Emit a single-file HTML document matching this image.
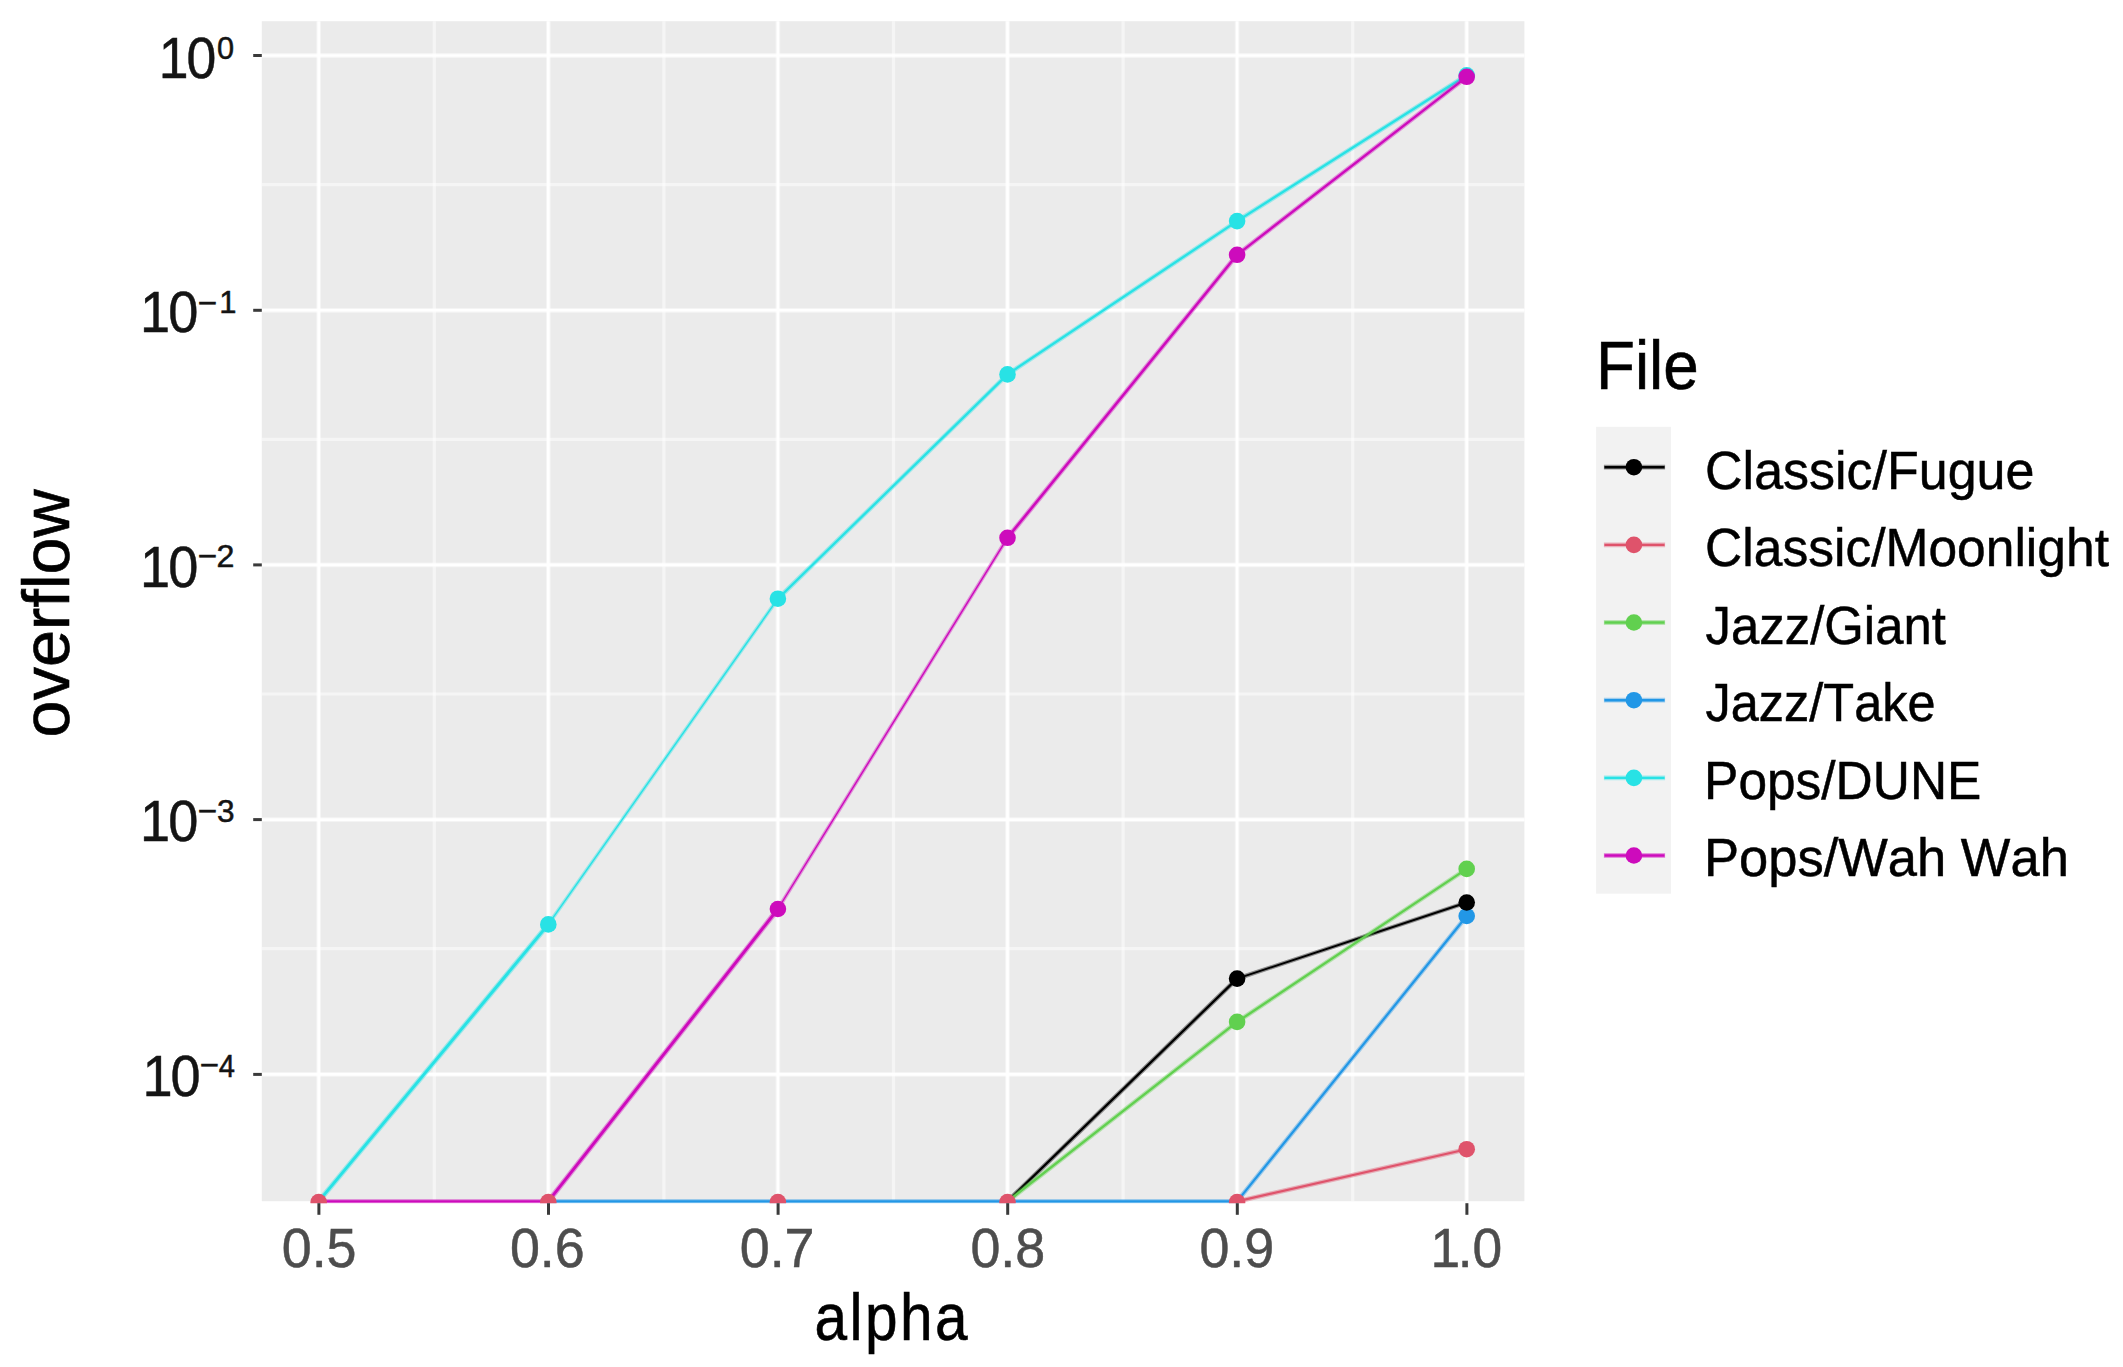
<!DOCTYPE html>
<html lang="en"><head><meta charset="utf-8"><title>overflow vs alpha</title>
<style>
html,body{margin:0;padding:0;background:#fff;}
body{width:2123px;height:1367px;overflow:hidden;}
svg{display:block;}
text{font-family:"Liberation Sans",Arial,sans-serif;font-kerning:none;white-space:pre;}
</style></head><body>
<svg width="2123" height="1367" viewBox="0 0 2123 1367">
<rect x="0" y="0" width="2123" height="1367" fill="#ffffff"/>
<defs><clipPath id="pc"><rect x="261.8" y="21.2" width="1262.6" height="1182.0"/></clipPath></defs>
<rect x="261.8" y="21.2" width="1262.6" height="1180.0" fill="#EBEBEB"/>
<g stroke="#ffffff" fill="none">
<line x1="261.8" x2="1524.4" y1="184.7" y2="184.7" stroke-width="3.2" stroke-opacity="0.5"/>
<line x1="261.8" x2="1524.4" y1="439.3" y2="439.3" stroke-width="3.2" stroke-opacity="0.5"/>
<line x1="261.8" x2="1524.4" y1="694.0" y2="694.0" stroke-width="3.2" stroke-opacity="0.5"/>
<line x1="261.8" x2="1524.4" y1="948.7" y2="948.7" stroke-width="3.2" stroke-opacity="0.5"/>
<line y1="21.2" y2="1201.2" x1="434.3" x2="434.3" stroke-width="3.2" stroke-opacity="0.5"/>
<line y1="21.2" y2="1201.2" x1="663.9" x2="663.9" stroke-width="3.2" stroke-opacity="0.5"/>
<line y1="21.2" y2="1201.2" x1="893.5" x2="893.5" stroke-width="3.2" stroke-opacity="0.5"/>
<line y1="21.2" y2="1201.2" x1="1123.1" x2="1123.1" stroke-width="3.2" stroke-opacity="0.5"/>
<line y1="21.2" y2="1201.2" x1="1352.7" x2="1352.7" stroke-width="3.2" stroke-opacity="0.5"/>
<line x1="261.8" x2="1524.4" y1="55.5" y2="55.5" stroke-width="4.8" stroke-opacity="0.45"/>
<line x1="261.8" x2="1524.4" y1="55.5" y2="55.5" stroke-width="2.6"/>
<line x1="261.8" x2="1524.4" y1="310.3" y2="310.3" stroke-width="4.8" stroke-opacity="0.45"/>
<line x1="261.8" x2="1524.4" y1="310.3" y2="310.3" stroke-width="2.6"/>
<line x1="261.8" x2="1524.4" y1="564.9" y2="564.9" stroke-width="4.8" stroke-opacity="0.45"/>
<line x1="261.8" x2="1524.4" y1="564.9" y2="564.9" stroke-width="2.6"/>
<line x1="261.8" x2="1524.4" y1="819.6" y2="819.6" stroke-width="4.8" stroke-opacity="0.45"/>
<line x1="261.8" x2="1524.4" y1="819.6" y2="819.6" stroke-width="2.6"/>
<line x1="261.8" x2="1524.4" y1="1074.4" y2="1074.4" stroke-width="4.8" stroke-opacity="0.45"/>
<line x1="261.8" x2="1524.4" y1="1074.4" y2="1074.4" stroke-width="2.6"/>
<line y1="21.2" y2="1201.2" x1="318.7" x2="318.7" stroke-width="4.8" stroke-opacity="0.45"/>
<line y1="21.2" y2="1201.2" x1="318.7" x2="318.7" stroke-width="2.6"/>
<line y1="21.2" y2="1201.2" x1="548.3" x2="548.3" stroke-width="4.8" stroke-opacity="0.45"/>
<line y1="21.2" y2="1201.2" x1="548.3" x2="548.3" stroke-width="2.6"/>
<line y1="21.2" y2="1201.2" x1="777.9" x2="777.9" stroke-width="4.8" stroke-opacity="0.45"/>
<line y1="21.2" y2="1201.2" x1="777.9" x2="777.9" stroke-width="2.6"/>
<line y1="21.2" y2="1201.2" x1="1007.5" x2="1007.5" stroke-width="4.8" stroke-opacity="0.45"/>
<line y1="21.2" y2="1201.2" x1="1007.5" x2="1007.5" stroke-width="2.6"/>
<line y1="21.2" y2="1201.2" x1="1237.1" x2="1237.1" stroke-width="4.8" stroke-opacity="0.45"/>
<line y1="21.2" y2="1201.2" x1="1237.1" x2="1237.1" stroke-width="2.6"/>
<line y1="21.2" y2="1201.2" x1="1466.7" x2="1466.7" stroke-width="4.8" stroke-opacity="0.45"/>
<line y1="21.2" y2="1201.2" x1="1466.7" x2="1466.7" stroke-width="2.6"/>
</g>
<g clip-path="url(#pc)" fill="none" stroke-linecap="round" stroke-linejoin="round">
<line x1="1007.5" y1="1201.4" x2="1237.1" y2="978.6" stroke="#000000" stroke-width="4.7" stroke-opacity="0.4"/>
<line x1="1007.5" y1="1201.4" x2="1237.1" y2="978.6" stroke="#000000" stroke-width="2.3"/>
<line x1="1237.1" y1="978.6" x2="1466.7" y2="902.5" stroke="#000000" stroke-width="4.3" stroke-opacity="0.4"/>
<line x1="1237.1" y1="978.6" x2="1466.7" y2="902.5" stroke="#000000" stroke-width="1.9"/>
<line x1="1237.1" y1="1201.4" x2="1466.7" y2="1149.2" stroke="#DF536B" stroke-width="4.6" stroke-opacity="0.4"/>
<line x1="1237.1" y1="1201.4" x2="1466.7" y2="1149.2" stroke="#DF536B" stroke-width="2.2"/>
<line x1="1007.5" y1="1201.4" x2="1237.1" y2="1021.9" stroke="#61D04F" stroke-width="4.7" stroke-opacity="0.4"/>
<line x1="1007.5" y1="1201.4" x2="1237.1" y2="1021.9" stroke="#61D04F" stroke-width="2.3"/>
<line x1="1237.1" y1="1021.9" x2="1466.7" y2="868.9" stroke="#61D04F" stroke-width="4.7" stroke-opacity="0.4"/>
<line x1="1237.1" y1="1021.9" x2="1466.7" y2="868.9" stroke="#61D04F" stroke-width="2.3"/>
<line x1="548.3" y1="1201.4" x2="777.9" y2="1201.4" stroke="#2297E6" stroke-width="4.8" stroke-opacity="0.4"/>
<line x1="548.3" y1="1201.4" x2="777.9" y2="1201.4" stroke="#2297E6" stroke-width="2.4"/>
<line x1="777.9" y1="1201.4" x2="1007.5" y2="1201.4" stroke="#2297E6" stroke-width="4.8" stroke-opacity="0.4"/>
<line x1="777.9" y1="1201.4" x2="1007.5" y2="1201.4" stroke="#2297E6" stroke-width="2.4"/>
<line x1="1007.5" y1="1201.4" x2="1237.1" y2="1201.4" stroke="#2297E6" stroke-width="4.8" stroke-opacity="0.4"/>
<line x1="1007.5" y1="1201.4" x2="1237.1" y2="1201.4" stroke="#2297E6" stroke-width="2.4"/>
<line x1="1237.1" y1="1201.4" x2="1466.7" y2="916.0" stroke="#2297E6" stroke-width="4.6" stroke-opacity="0.4"/>
<line x1="1237.1" y1="1201.4" x2="1466.7" y2="916.0" stroke="#2297E6" stroke-width="2.2"/>
<line x1="318.7" y1="1201.4" x2="548.3" y2="924.4" stroke="#28E2E5" stroke-width="5.3" stroke-opacity="0.4"/>
<line x1="318.7" y1="1201.4" x2="548.3" y2="924.4" stroke="#28E2E5" stroke-width="2.9"/>
<line x1="548.3" y1="924.4" x2="777.9" y2="598.7" stroke="#28E2E5" stroke-width="3.8" stroke-opacity="0.4"/>
<line x1="548.3" y1="924.4" x2="777.9" y2="598.7" stroke="#28E2E5" stroke-width="1.4"/>
<line x1="777.9" y1="598.7" x2="1007.5" y2="374.4" stroke="#28E2E5" stroke-width="4.7" stroke-opacity="0.4"/>
<line x1="777.9" y1="598.7" x2="1007.5" y2="374.4" stroke="#28E2E5" stroke-width="2.3"/>
<line x1="1007.5" y1="374.4" x2="1237.1" y2="221.1" stroke="#28E2E5" stroke-width="4.7" stroke-opacity="0.4"/>
<line x1="1007.5" y1="374.4" x2="1237.1" y2="221.1" stroke="#28E2E5" stroke-width="2.3"/>
<line x1="1237.1" y1="221.1" x2="1466.7" y2="75.3" stroke="#28E2E5" stroke-width="4.7" stroke-opacity="0.4"/>
<line x1="1237.1" y1="221.1" x2="1466.7" y2="75.3" stroke="#28E2E5" stroke-width="2.3"/>
<line x1="318.7" y1="1201.4" x2="548.3" y2="1201.4" stroke="#CD0BBC" stroke-width="4.8" stroke-opacity="0.4"/>
<line x1="318.7" y1="1201.4" x2="548.3" y2="1201.4" stroke="#CD0BBC" stroke-width="2.4"/>
<line x1="548.3" y1="1201.4" x2="777.9" y2="909.0" stroke="#CD0BBC" stroke-width="5.3" stroke-opacity="0.4"/>
<line x1="548.3" y1="1201.4" x2="777.9" y2="909.0" stroke="#CD0BBC" stroke-width="2.9"/>
<line x1="777.9" y1="909.0" x2="1007.5" y2="537.8" stroke="#CD0BBC" stroke-width="3.8" stroke-opacity="0.4"/>
<line x1="777.9" y1="909.0" x2="1007.5" y2="537.8" stroke="#CD0BBC" stroke-width="1.4"/>
<line x1="1007.5" y1="537.8" x2="1237.1" y2="254.8" stroke="#CD0BBC" stroke-width="4.9" stroke-opacity="0.4"/>
<line x1="1007.5" y1="537.8" x2="1237.1" y2="254.8" stroke="#CD0BBC" stroke-width="2.5"/>
<line x1="1237.1" y1="254.8" x2="1466.7" y2="76.8" stroke="#CD0BBC" stroke-width="4.7" stroke-opacity="0.4"/>
<line x1="1237.1" y1="254.8" x2="1466.7" y2="76.8" stroke="#CD0BBC" stroke-width="2.3"/>
</g>
<g clip-path="url(#pc)">
<circle cx="1237.1" cy="1021.9" r="8.3" fill="#61D04F"/>
<circle cx="1466.7" cy="868.9" r="8.3" fill="#61D04F"/>
<circle cx="1466.7" cy="916.0" r="8.3" fill="#2297E6"/>
<circle cx="548.3" cy="924.4" r="8.3" fill="#28E2E5"/>
<circle cx="777.9" cy="598.7" r="8.3" fill="#28E2E5"/>
<circle cx="1007.5" cy="374.4" r="8.3" fill="#28E2E5"/>
<circle cx="1237.1" cy="221.1" r="8.3" fill="#28E2E5"/>
<circle cx="1466.7" cy="75.3" r="8.3" fill="#28E2E5"/>
<circle cx="777.9" cy="909.0" r="8.3" fill="#CD0BBC"/>
<circle cx="1007.5" cy="537.8" r="8.3" fill="#CD0BBC"/>
<circle cx="1237.1" cy="254.8" r="8.3" fill="#CD0BBC"/>
<circle cx="1466.7" cy="76.8" r="8.3" fill="#CD0BBC"/>
<circle cx="1237.1" cy="978.6" r="8.3" fill="#000000"/>
<circle cx="1466.7" cy="902.5" r="8.3" fill="#000000"/>
<circle cx="318.7" cy="1202.0" r="8.3" fill="#DF536B"/>
<circle cx="548.3" cy="1202.0" r="8.3" fill="#DF536B"/>
<circle cx="777.9" cy="1202.0" r="8.3" fill="#DF536B"/>
<circle cx="1007.5" cy="1202.0" r="8.3" fill="#DF536B"/>
<circle cx="1237.1" cy="1202.0" r="8.3" fill="#DF536B"/>
<circle cx="1466.7" cy="1149.2" r="8.3" fill="#DF536B"/>
</g>
<g stroke="#3a3a3a" stroke-width="3.0" fill="none">
<line x1="253.2" x2="261.8" y1="55.5" y2="55.5"/>
<line x1="253.2" x2="261.8" y1="310.3" y2="310.3"/>
<line x1="253.2" x2="261.8" y1="564.9" y2="564.9"/>
<line x1="253.2" x2="261.8" y1="819.6" y2="819.6"/>
<line x1="253.2" x2="261.8" y1="1074.4" y2="1074.4"/>
<line x1="318.9" x2="318.9" y1="1203.2" y2="1214.8"/>
<line x1="548.5" x2="548.5" y1="1203.2" y2="1214.8"/>
<line x1="778.1" x2="778.1" y1="1203.2" y2="1214.8"/>
<line x1="1007.7" x2="1007.7" y1="1203.2" y2="1214.8"/>
<line x1="1237.3" x2="1237.3" y1="1203.2" y2="1214.8"/>
<line x1="1466.9" x2="1466.9" y1="1203.2" y2="1214.8"/>
</g>
<text transform="translate(281.70,1266.60) scale(0.9650,1)" font-size="55.8" fill="#4D4D4D" stroke="#4D4D4D" stroke-width="0.5">0.5</text>
<text transform="translate(509.90,1266.60) scale(0.9650,1)" font-size="55.8" fill="#4D4D4D" stroke="#4D4D4D" stroke-width="0.5">0.6</text>
<text transform="translate(739.70,1266.60) scale(0.9650,1)" font-size="55.8" fill="#4D4D4D" stroke="#4D4D4D" stroke-width="0.5">0.7</text>
<text transform="translate(970.40,1266.60) scale(0.9650,1)" font-size="55.8" fill="#4D4D4D" stroke="#4D4D4D" stroke-width="0.5">0.8</text>
<text transform="translate(1199.40,1266.60) scale(0.9650,1)" font-size="55.8" fill="#4D4D4D" stroke="#4D4D4D" stroke-width="0.5">0.9</text>
<text transform="translate(1428.13,1266.60) scale(0.9560,1)" font-size="55.8" fill="#4D4D4D" stroke="#4D4D4D" stroke-width="0.5"><tspan dx="2.6">1</tspan><tspan dx="-2.6">.0</tspan></text>
<text transform="translate(156.82,78.40) scale(0.9265,1)" font-size="57.8" fill="#141414" stroke="#141414" stroke-width="0.5"><tspan dx="2.2">1</tspan><tspan dx="-2.2">0</tspan></text>
<text transform="translate(217.10,58.60) scale(0.9610,1)" font-size="32" fill="#141414" stroke="#141414" stroke-width="0.5">0</text>
<text transform="translate(138.05,331.90) scale(0.9374,1)" font-size="57.8" fill="#141414" stroke="#141414" stroke-width="0.5"><tspan dx="2.2">1</tspan><tspan dx="-2.2">0</tspan></text>
<text transform="translate(197.86,314.14) scale(1.0420,1)" font-size="32" fill="#141414" stroke="#141414" stroke-width="0.5">−</text>
<text transform="translate(219.24,313.30) scale(0.9700,1)" font-size="32" fill="#141414" stroke="#141414" stroke-width="0.5">1</text>
<text transform="translate(138.05,586.90) scale(0.9374,1)" font-size="57.8" fill="#141414" stroke="#141414" stroke-width="0.5"><tspan dx="2.2">1</tspan><tspan dx="-2.2">0</tspan></text>
<text transform="translate(197.86,567.34) scale(1.0420,1)" font-size="32" fill="#141414" stroke="#141414" stroke-width="0.5">−</text>
<text transform="translate(216.48,567.30) scale(1.0084,1)" font-size="32" fill="#141414" stroke="#141414" stroke-width="0.5">2</text>
<text transform="translate(138.05,840.70) scale(0.9374,1)" font-size="57.8" fill="#141414" stroke="#141414" stroke-width="0.5"><tspan dx="2.2">1</tspan><tspan dx="-2.2">0</tspan></text>
<text transform="translate(197.86,822.44) scale(1.0420,1)" font-size="32" fill="#141414" stroke="#141414" stroke-width="0.5">−</text>
<text transform="translate(216.90,822.10) scale(0.9887,1)" font-size="32" fill="#141414" stroke="#141414" stroke-width="0.5">3</text>
<text transform="translate(140.35,1095.60) scale(0.9374,1)" font-size="57.8" fill="#141414" stroke="#141414" stroke-width="0.5"><tspan dx="2.2">1</tspan><tspan dx="-2.2">0</tspan></text>
<text transform="translate(199.87,1076.14) scale(1.0356,1)" font-size="32" fill="#141414" stroke="#141414" stroke-width="0.5">−</text>
<text transform="translate(218.73,1076.90) scale(0.9116,1)" font-size="32" fill="#141414" stroke="#141414" stroke-width="0.5">4</text>
<text transform="translate(814.41,1339.50) scale(0.8747,1)" font-size="67" fill="#000" stroke="#000" stroke-width="0.6" letter-spacing="2.800">alpha</text>
<text transform="translate(68.6,737.40) rotate(-90) scale(1.0097,1)" font-size="66" fill="#000" stroke="#000" stroke-width="0.6">overflow</text>
<text transform="translate(1595.97,388.60) scale(0.9310,1)" font-size="68.5" fill="#000" stroke="#000" stroke-width="0.6">File</text>
<rect x="1596.1" y="426.8" width="74.9" height="466.9" fill="#F2F2F2"/>
<line x1="1603.9" x2="1665.1" y1="467.2" y2="467.2" stroke="#000000" stroke-width="4.8" stroke-opacity="0.4"/>
<line x1="1604.4" x2="1664.6" y1="467.2" y2="467.2" stroke="#000000" stroke-width="2.4"/>
<circle cx="1633.9" cy="467.2" r="8.3" fill="#000000"/>
<text transform="translate(1705.06,488.60) scale(0.9541,1)" font-size="54.5" fill="#000" stroke="#000" stroke-width="0.5">Classic/Fugue</text>
<line x1="1603.9" x2="1665.1" y1="544.9000000000001" y2="544.9000000000001" stroke="#DF536B" stroke-width="4.8" stroke-opacity="0.4"/>
<line x1="1604.4" x2="1664.6" y1="544.9000000000001" y2="544.9000000000001" stroke="#DF536B" stroke-width="2.4"/>
<circle cx="1633.9" cy="544.9000000000001" r="8.3" fill="#DF536B"/>
<text transform="translate(1705.08,565.70) scale(0.9459,1)" font-size="54.5" fill="#000" stroke="#000" stroke-width="0.5">Classic/Moonlight</text>
<line x1="1603.9" x2="1665.1" y1="622.5" y2="622.5" stroke="#61D04F" stroke-width="4.8" stroke-opacity="0.4"/>
<line x1="1604.4" x2="1664.6" y1="622.5" y2="622.5" stroke="#61D04F" stroke-width="2.4"/>
<circle cx="1633.9" cy="622.5" r="8.3" fill="#61D04F"/>
<text transform="translate(1705.50,644.20) scale(0.9340,1)" font-size="54.5" fill="#000" stroke="#000" stroke-width="0.5">Jazz/Giant</text>
<line x1="1603.9" x2="1665.1" y1="700.2" y2="700.2" stroke="#2297E6" stroke-width="4.8" stroke-opacity="0.4"/>
<line x1="1604.4" x2="1664.6" y1="700.2" y2="700.2" stroke="#2297E6" stroke-width="2.4"/>
<circle cx="1633.9" cy="700.2" r="8.3" fill="#2297E6"/>
<text transform="translate(1705.51,720.80) scale(0.9262,1)" font-size="54.5" fill="#000" stroke="#000" stroke-width="0.5">Jazz/Take</text>
<line x1="1603.9" x2="1665.1" y1="777.9000000000001" y2="777.9000000000001" stroke="#28E2E5" stroke-width="4.8" stroke-opacity="0.4"/>
<line x1="1604.4" x2="1664.6" y1="777.9000000000001" y2="777.9000000000001" stroke="#28E2E5" stroke-width="2.4"/>
<circle cx="1633.9" cy="777.9000000000001" r="8.3" fill="#28E2E5"/>
<text transform="translate(1704.08,798.60) scale(0.9440,1)" font-size="54.5" fill="#000" stroke="#000" stroke-width="0.5">Pops/DUNE</text>
<line x1="1603.9" x2="1665.1" y1="855.5" y2="855.5" stroke="#CD0BBC" stroke-width="4.8" stroke-opacity="0.4"/>
<line x1="1604.4" x2="1664.6" y1="855.5" y2="855.5" stroke="#CD0BBC" stroke-width="2.4"/>
<circle cx="1633.9" cy="855.5" r="8.3" fill="#CD0BBC"/>
<text transform="translate(1703.99,876.30) scale(0.9638,1)" font-size="54.5" fill="#000" stroke="#000" stroke-width="0.5">Pops/Wah Wah</text>
</svg>
</body></html>
